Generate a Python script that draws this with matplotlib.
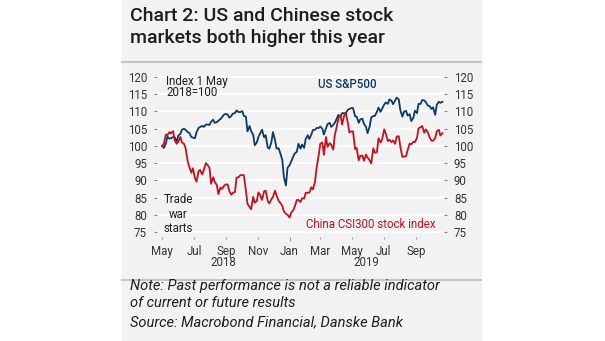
import pandas as pd
import matplotlib
matplotlib.use("Agg")
import matplotlib.pyplot as plt
import matplotlib.transforms as mtransforms
from matplotlib.patches import Rectangle
from matplotlib.lines import Line2D

W, H = 605, 341

# twice-weekly samples (Tuesdays and Fridays), index 1 May 2018 = 100
dates = pd.date_range("2018-05-01", "2019-10-22", freq="W-TUE").union(
    pd.date_range("2018-05-01", "2019-10-22", freq="W-FRI"))

us_sp500 = [
    100.0, 99.4, 100.6, 102.7, 102.1, 102.2, 102.6, 102.5, 101.3, 103.0,
    103.5, 104.7, 105.0, 104.7, 104.0, 103.8, 102.6, 102.4, 102.2, 104.0,
    105.2, 105.5, 105.8, 105.5, 106.2, 106.2, 106.1, 107.0, 107.6, 106.7,
    106.9, 107.3, 107.8, 108.3, 109.1, 109.3, 109.1, 108.2, 108.7, 109.4,
    109.5, 110.3, 109.8, 109.8, 110.1, 108.7, 108.5, 104.2, 105.8, 104.3,
    103.2, 100.2, 101.0, 102.6, 103.8, 104.7, 102.5, 103.1, 99.5, 99.2,
    101.0, 104.0, 101.7, 99.2, 99.3, 97.9, 95.9, 91.0, 88.5, 93.6,
    94.4, 95.4, 96.9, 97.8, 98.3, 100.6, 99.2, 100.4, 99.4, 102.0,
    103.1, 102.0, 103.4, 104.6, 104.7, 105.2, 105.2, 105.6, 105.0, 103.3,
    105.1, 106.3, 106.7, 105.5, 106.1, 106.7, 108.0, 109.0, 108.4, 109.5,
    109.5, 109.4, 110.5, 110.7, 111.0, 111.0, 108.6, 108.5, 106.7, 107.7,
    107.9, 106.4, 105.5, 103.7, 105.6, 108.2, 108.7, 108.7, 109.9, 111.1,
    109.9, 110.8, 112.0, 112.6, 112.2, 113.5, 113.1, 112.1, 113.2, 114.0,
    113.5, 110.4, 108.5, 109.9, 110.2, 108.8, 109.2, 107.2, 108.1, 110.2,
    109.5, 112.2, 112.2, 113.3, 113.2, 112.7, 111.7, 111.6, 110.7, 111.2,
    109.0, 111.9, 112.8, 112.5, 112.8,
]

china_csi300 = [
    100.0, 100.5, 103.3, 103.1, 104.0, 103.6, 104.3, 101.6, 100.6, 101.2,
    102.6, 101.0, 100.6, 99.3, 95.5, 94.0, 92.2, 93.5, 90.7, 89.6,
    92.7, 93.0, 91.7, 93.0, 95.0, 94.5, 93.6, 89.0, 90.9, 89.5,
    88.7, 86.0, 87.9, 87.5, 88.4, 88.8, 88.8, 86.9, 85.8, 86.4,
    86.6, 90.8, 90.9, 91.5, 91.5, 91.5, 87.0, 83.2, 82.3, 81.6,
    85.2, 83.5, 84.0, 86.5, 85.6, 84.3, 86.8, 87.0, 84.0, 83.3,
    84.5, 85.2, 87.0, 85.6, 84.0, 83.5, 82.6, 81.0, 80.3, 80.0,
    79.2, 80.6, 81.3, 82.4, 84.3, 84.3, 83.7, 84.8, 84.7, 86.4,
    86.4, 86.4, 88.0, 87.4, 89.7, 93.7, 97.3, 100.6, 101.0, 97.4,
    102.6, 99.7, 100.8, 100.4, 98.9, 103.1, 105.8, 108.1, 108.8, 106.2,
    108.8, 109.7, 106.7, 103.9, 104.2, 104.2, 99.1, 99.4, 95.8, 97.1,
    97.2, 95.7, 97.5, 96.6, 95.8, 94.9, 99.3, 98.0, 98.2, 102.2,
    101.0, 101.9, 104.8, 103.6, 101.4, 101.8, 101.1, 101.6, 100.6, 102.7,
    102.8, 99.8, 96.8, 96.9, 97.0, 98.7, 100.7, 100.4, 101.2, 101.1,
    102.3, 105.1, 105.4, 105.8, 103.8, 104.8, 103.9, 102.6, 101.5, 101.5,
    102.2, 104.2, 104.7, 103.0, 103.7,
]

y_ticks = [75, 80, 85, 90, 95, 100, 105, 110, 115, 120]
month_ticks = pd.to_datetime(["2018-05-01", "2018-07-01", "2018-09-01", "2018-11-01",
                              "2019-01-01", "2019-03-01", "2019-05-01", "2019-07-01",
                              "2019-09-01"])
month_labels = ["May", "Jul", "Sep", "Nov", "Jan", "Mar", "May", "Jul", "Sep"]
year_labels = ["2018", "2019"]
year_centers = pd.to_datetime(["2018-08-27", "2019-05-28"])

BLUE = "#0d3b66"
RED = "#c1121f"
TXT = "#1e1e1e"

plt.rcParams["font.family"] = "Roboto"


def fx(px):
    return px / W


def fy(py):
    return 1 - py / H


fig = plt.figure(figsize=(W / 100, H / 100), dpi=100)
fig.patch.set_facecolor("white")

# grey panel and separators
fig.patches.append(Rectangle((fx(122), 0), fx(481) - fx(122), 1,
                             transform=fig.transFigure, color="#f2f2f2", zorder=-5))
for yy in (62, 280):
    fig.lines.append(Line2D([fx(122), fx(481)], [fy(yy), fy(yy)],
                            transform=fig.transFigure, color="#c4c4c4", lw=1.5))

# title
fig.text(fx(130), fy(16), "Chart 2: US and Chinese stock", fontsize=14,
         color=TXT, va="center", fontweight="medium")
fig.text(fx(130), fy(38), "markets both higher this year", fontsize=14,
         color=TXT, va="center", fontweight="medium")

# plot area
ax_l, ax_r, ax_t, ax_b = 157, 444, 75, 237
ax = fig.add_axes([fx(ax_l), fy(ax_b), (ax_r - ax_l) / W, (ax_b - ax_t) / H])
ax.set_facecolor("none")

ax.plot(dates, us_sp500, color=BLUE, lw=1.3, zorder=3)
ax.plot(dates, china_csi300, color=RED, lw=1.3, zorder=3)

ax.set_ylim(73.55, 120.58)
ax.set_xlim(pd.Timestamp("2018-04-21"), pd.Timestamp("2019-10-25"))
ax.set_yticks(y_ticks)
ax.set_yticklabels([str(v) for v in y_ticks])
ax.set_xticks(month_ticks)
ax.set_xticklabels(month_labels)
ax.yaxis.grid(True, color="white", lw=1.3)
ax.set_axisbelow(True)
for s in ax.spines.values():
    s.set_visible(False)

ax.tick_params(axis="y", left=True, right=True, labelleft=True, labelright=True,
               length=2.2, width=0.8, color="#8a8a8a", pad=5, labelsize=8.3,
               labelcolor="#333333")
ax.tick_params(axis="x", length=1.6, width=0.8, color="#9a9a9a", pad=4,
               labelsize=8.3, labelcolor="#333333")
ax.xaxis.get_major_ticks()[4].tick1line.set_markersize(3.2)

# year labels under the months
trans = mtransforms.blended_transform_factory(ax.transData, fig.transFigure)
for d, lab in zip(year_centers, year_labels):
    ax.text(d, fy(263), lab, transform=trans, ha="center", va="center",
            fontsize=8.3, color="#333333")

# annotations
fig.text(fx(166), fy(81), "Index 1 May", fontsize=8.3, color=TXT, va="center")
fig.text(fx(166), fy(93), "2018=100", fontsize=8.3, color=TXT, va="center")
fig.text(fx(318), fy(84), "US S&P500", fontsize=8.3, color=BLUE, va="center",
         fontweight="medium")
fig.text(fx(178), fy(214), "Trade\nwar\nstarts", fontsize=8.3, color=TXT,
         va="center", ha="center", linespacing=1.15)
fig.text(fx(306), fy(224), "China CSI300 stock index", fontsize=8.3, color=RED,
         va="center")

# footnotes
fig.text(fx(130), fy(286), "Note: Past performance is not a reliable indicator",
         fontsize=10.5, style="italic", color=TXT, va="center")
fig.text(fx(130), fy(303), "of current or future results",
         fontsize=10.5, style="italic", color=TXT, va="center")
fig.text(fx(130), fy(322), "Source: Macrobond Financial, Danske Bank",
         fontsize=10.5, style="italic", color=TXT, va="center")

fig.savefig("out.png", dpi=100)
